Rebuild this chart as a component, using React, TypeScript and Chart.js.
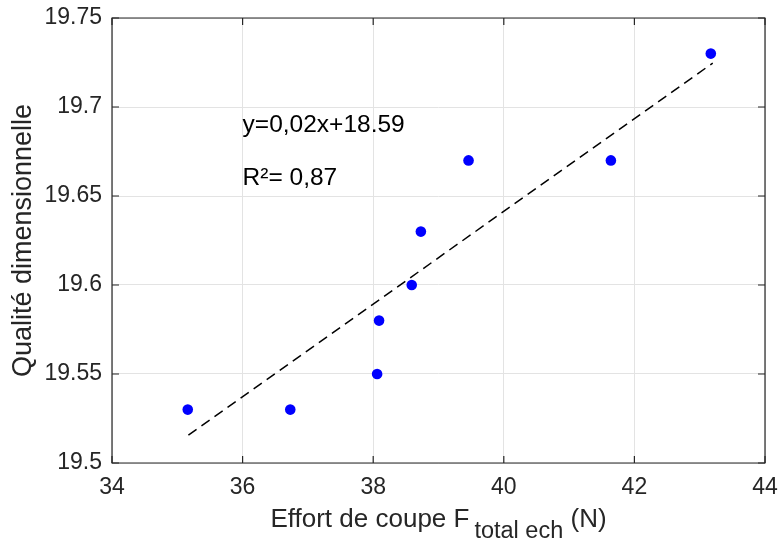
import React, { useEffect, useRef } from "react";
import { Chart, registerables } from "chart.js";

Chart.register(...registerables);

// ---- data ----
const effortX = [35.16, 36.73, 38.06, 38.09, 38.59, 38.73, 39.46, 41.64, 43.17];
const qualiteY = [19.53, 19.53, 19.55, 19.58, 19.6, 19.63, 19.67, 19.67, 19.73];
const fitX = [35.17, 43.2];
const fitY = [19.5156, 19.7247];
const xTicks = [34, 36, 38, 40, 42, 44];
const yTicks = [19.5, 19.55, 19.6, 19.65, 19.7, 19.75];
const annotationTexts = ["y=0,02x+18.59", "R²= 0,87"];
const annotationX = [36, 36];
const annotationY = [19.69, 19.66];
const xTitleMain = "Effort de coupe F";
const xTitleSub = "total ech";
const xTitleTail = " (N)";
const yTitle = "Qualité dimensionnelle";

const FONT = "'Liberation Sans', Arial, Helvetica, sans-serif";
const AXIS_COLOR = "#262626";

const decorPlugin = {
  id: "decor",
  afterDraw(chart: any) {
    const { ctx, chartArea: a, scales } = chart;
    const x = scales.x;
    const y = scales.y;
    ctx.save();
    // box
    ctx.strokeStyle = AXIS_COLOR;
    ctx.lineWidth = 1.2;
    ctx.beginPath();
    ctx.rect(a.left, a.top, a.right - a.left, a.bottom - a.top);
    ctx.stroke();
    // inward ticks
    const tl = 7;
    ctx.beginPath();
    xTicks.forEach((v) => {
      const px = x.getPixelForValue(v);
      ctx.moveTo(px, a.bottom);
      ctx.lineTo(px, a.bottom - tl);
      ctx.moveTo(px, a.top);
      ctx.lineTo(px, a.top + tl);
    });
    yTicks.forEach((v) => {
      const py = y.getPixelForValue(v);
      ctx.moveTo(a.left, py);
      ctx.lineTo(a.left + tl, py);
      ctx.moveTo(a.right, py);
      ctx.lineTo(a.right - tl, py);
    });
    ctx.stroke();

    // annotations
    ctx.fillStyle = "#000";
    ctx.font = `24.5px ${FONT}`;
    ctx.textAlign = "left";
    ctx.textBaseline = "middle";
    annotationTexts.forEach((t, i) => {
      ctx.fillText(t, x.getPixelForValue(annotationX[i]), y.getPixelForValue(annotationY[i]));
    });

    // x title with subscript
    ctx.fillStyle = AXIS_COLOR;
    const mainFont = `26px ${FONT}`;
    const subFont = `23.5px ${FONT}`;
    ctx.font = mainFont;
    const wMain = ctx.measureText(xTitleMain).width;
    const wTail = ctx.measureText(xTitleTail).width;
    ctx.font = subFont;
    const wSub = ctx.measureText(xTitleSub).width;
    const gap = 5;
    const total = wMain + gap + wSub + wTail;
    const cx = (a.left + a.right) / 2;
    let sx = cx - total / 2;
    const baseY = a.bottom + 64;
    ctx.textBaseline = "alphabetic";
    ctx.font = mainFont;
    ctx.fillText(xTitleMain, sx, baseY);
    sx += wMain + gap;
    ctx.font = subFont;
    ctx.fillText(xTitleSub, sx, baseY + 11);
    sx += wSub;
    ctx.font = mainFont;
    ctx.fillText(xTitleTail, sx, baseY);

    // y title
    ctx.save();
    ctx.translate(a.left - 88, (a.top + a.bottom) / 2);
    ctx.rotate(-Math.PI / 2);
    ctx.textAlign = "center";
    ctx.textBaseline = "middle";
    ctx.font = `27px ${FONT}`;
    ctx.fillText(yTitle, 0, 0);
    ctx.restore();

    ctx.restore();
  },
};

export default function App() {
  const canvasRef = useRef<HTMLCanvasElement | null>(null);

  useEffect(() => {
    document.body.style.margin = "0";
    const canvas = canvasRef.current;
    if (!canvas) return;
    const chart = new Chart(canvas, {
      type: "scatter",
      data: {
        datasets: [
          {
            label: "data",
            data: effortX.map((v, i) => ({ x: v, y: qualiteY[i] })),
            backgroundColor: "#0000ff",
            borderColor: "#0000ff",
            pointRadius: 5.3,
            pointHoverRadius: 5.3,
            borderWidth: 0,
          },
          {
            label: "fit",
            data: fitX.map((v, i) => ({ x: v, y: fitY[i] })),
            showLine: true,
            borderColor: "#000000",
            borderWidth: 1.5,
            borderDash: [10, 6],
            pointRadius: 0,
            fill: false,
          },
        ],
      },
      options: {
        responsive: false,
        animation: false,
        events: [],
        layout: { padding: { top: 18, right: 14, left: 0, bottom: 0 } },
        plugins: {
          legend: { display: false },
          tooltip: { enabled: false },
        },
        scales: {
          x: {
            type: "linear",
            min: 34,
            max: 44,
            afterBuildTicks: (s: any) => {
              s.ticks = xTicks.map((v) => ({ value: v }));
            },
            afterFit: (s: any) => {
              s.height = 77;
              s.paddingLeft = 0;
              s.paddingRight = 0;
            },
            ticks: {
              font: { family: FONT, size: 23 },
              color: AXIS_COLOR,
              padding: 11,
              maxRotation: 0,
              callback: (v: any) => String(Number(Number(v).toFixed(2))),
            },
            grid: { color: "#e3e3e3", lineWidth: 1, drawTicks: false },
            border: { display: false },
          },
          y: {
            type: "linear",
            min: 19.5,
            max: 19.75,
            afterBuildTicks: (s: any) => {
              s.ticks = yTicks.map((v) => ({ value: v }));
            },
            afterFit: (s: any) => {
              s.width = 112;
              s.paddingTop = 0;
              s.paddingBottom = 0;
            },
            ticks: {
              font: { family: FONT, size: 23 },
              color: AXIS_COLOR,
              padding: 10,
              callback: (v: any) => String(Number(Number(v).toFixed(2))),
            },
            grid: { color: "#e3e3e3", lineWidth: 1, drawTicks: false },
            border: { display: false },
          },
        },
      },
      plugins: [decorPlugin],
    } as any);
    return () => chart.destroy();
  }, []);

  return (
    <div style={{ width: 779, height: 540, background: "#fff" }}>
      <canvas ref={canvasRef} width={779} height={540} style={{ display: "block" }} />
    </div>
  );
}
